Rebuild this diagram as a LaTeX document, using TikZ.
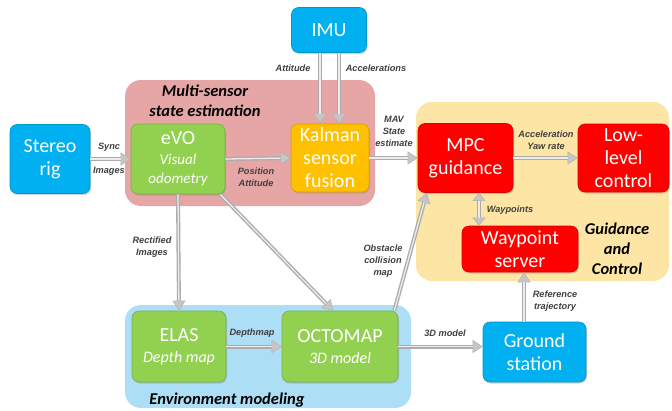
\documentclass[tikz,border=0pt]{standalone}
\usepackage{fontspec}
\setmainfont{Carlito}
\newfontfamily\labfont{Liberation Sans}
\usetikzlibrary{arrows.meta,shadows,calc}
\definecolor{cbox}{RGB}{0,176,240}
\definecolor{gbox}{RGB}{146,208,80}
\definecolor{ybox}{RGB}{255,192,0}
\definecolor{rbox}{RGB}{255,0,0}
\definecolor{pinkbg}{RGB}{230,166,166}
\definecolor{yelbg}{RGB}{253,230,165}
\definecolor{bluebg}{RGB}{172,222,246}
\definecolor{labcol}{RGB}{64,64,64}
\newcommand{\subf}[1]{{\fontsize{15}{16}\selectfont\itshape #1}}
\newcommand{\subg}[1]{{\fontsize{16}{18}\selectfont\itshape #1}}
\tikzset{
  box/.style={rounded corners=7pt, draw=#1!85!black, line width=0.6pt, fill=#1,
    text=white, align=center, inner sep=0pt,
    font=\fontsize{20}{23}\selectfont,
    drop shadow={shadow xshift=1pt, shadow yshift=-1.5pt, opacity=0.35}},
  region/.style={rounded corners=16pt, fill=#1, draw=none},
  title/.style={font=\fontsize{16.5}{20}\selectfont\bfseries\itshape, align=center, text=black},
  lab/.style={font=\labfont\fontsize{9.2}{12}\selectfont\bfseries\itshape, text=labcol, align=center, inner sep=0pt},
  garrow/.style={draw=gray!65, line width=4pt,
    -{Triangle[length=10pt,width=13pt,fill=gray!45,color=gray!60,line width=0.5pt]},
    postaction={draw=gray!15, line width=1.3pt, shorten >=10pt, arrows=-}},
  garrowboth/.style={draw=gray!65, line width=4pt,
    {Triangle[length=8pt,width=13pt,fill=gray!45,color=gray!60,line width=0.5pt]}-{Triangle[length=8pt,width=13pt,fill=gray!45,color=gray!60,line width=0.5pt]},
    postaction={draw=gray!15, line width=1.3pt, shorten >=8pt, shorten <=8pt, arrows=-}},
}
\begin{document}
\begin{tikzpicture}[x=1pt,y=-1pt]
\useasboundingbox (0,0) rectangle (672,410);
% regions
\fill[region=pinkbg] (125,80) rectangle (375,206);
\fill[region=yelbg] (416,102) rectangle (669,281);
\fill[region=bluebg] (125,305) rectangle (411,408);
\node[title] (tms) at (205,101) {Multi-sensor\\state estimation};
\node[title] (tgc) at (617,249) {Guidance\\and\\Control};
\node[title] (tem) at (227,400) {Environment modeling};
% boxes
\node[box=cbox, minimum width=80pt, minimum height=69pt] (stereo) at (50,159) {Stereo\\rig};
\node[box=gbox, minimum width=94pt, minimum height=70pt] (evo) at (178,159)
  {eVO\\[-3pt]\subf{Visual}\\[-4pt]\subf{odometry}};
\node[box=ybox, minimum width=78pt, minimum height=68pt] (kal) at (330,158) {Kalman\\sensor\\fusion};
\node[box=cbox, minimum width=75pt, minimum height=45pt] (imu) at (329,30) {IMU};
\node[box=rbox, minimum width=95pt, minimum height=69pt] (mpc) at (465.5,158) {MPC\\guidance};
\node[box=rbox, minimum width=91pt, minimum height=68pt] (low) at (623.5,158) {Low-\\level\\control};
\node[box=rbox, minimum width=116pt, minimum height=46pt] (wp) at (520,249) {Waypoint\\server};
\node[box=cbox, minimum width=103pt, minimum height=60pt] (gs) at (534.5,352) {Ground\\station};
\node[box=gbox, minimum width=94pt, minimum height=71pt] (elas) at (179,346.5)
  {ELAS\\[-2pt]\subg{Depth map}};
\node[box=gbox, minimum width=116pt, minimum height=71pt] (octo) at (340,346.5)
  {OCTOMAP\\[-2pt]\subg{3D model}};
% arrows
\draw[garrow] (stereo.east) -- (evo.west);
\draw[garrow] (evo.east) -- (kal.west);
\draw[garrow] ([xshift=-9pt]imu.south) -- ([xshift=-9pt]imu.south |- kal.north);
\draw[garrow] ([xshift=10pt]imu.south) -- ([xshift=10pt]imu.south |- kal.north);
\draw[garrow] (kal.east) -- (mpc.west);
\draw[garrow] (mpc.east) -- (low.west);
\draw[garrowboth] ([xshift=13.5pt]mpc.south) -- ([xshift=13.5pt]mpc.south |- wp.north);
\draw[garrow] ([xshift=4pt]wp.south |- gs.north) -- ([xshift=4pt]wp.south);
\draw[garrow] (evo.south) -- (elas.north);
\draw[garrow] ([xshift=-5pt]evo.south east) -- ([xshift=-7pt]octo.north);
\draw[garrow] (elas.east) -- (octo.west);
\draw[garrow] (octo.east) -- (octo.east -| gs.west);
\draw[garrow] ([xshift=-4pt]octo.north east) -- ([xshift=9pt]mpc.south west);
% labels
\node[lab] (l1) at (109,147) {Sync};
\node[lab] (l2) at (109,171) {Images};
\node[lab] (l3) at (256,177) {Position\\Attitude};
\node[lab] (l4) at (293,68) {Attitude};
\node[lab] (l5) at (376,68) {Accelerations};
\node[lab] (l6) at (394,131) {MAV\\State\\estimate};
\node[lab] (l7) at (546,140) {Acceleration\\Yaw rate};
\node[lab] (l8) at (510,210) {Waypoints};
\node[lab] (l9) at (383,261) {Obstacle\\collision\\map};
\node[lab] (l10) at (555,301) {Reference\\trajectory};
\node[lab] (l11) at (445,333) {3D model};
\node[lab] (l12) at (152,247) {Rectified\\Images};
\node[lab] (l13) at (252,333) {Depthmap};
\end{tikzpicture}
\end{document}
